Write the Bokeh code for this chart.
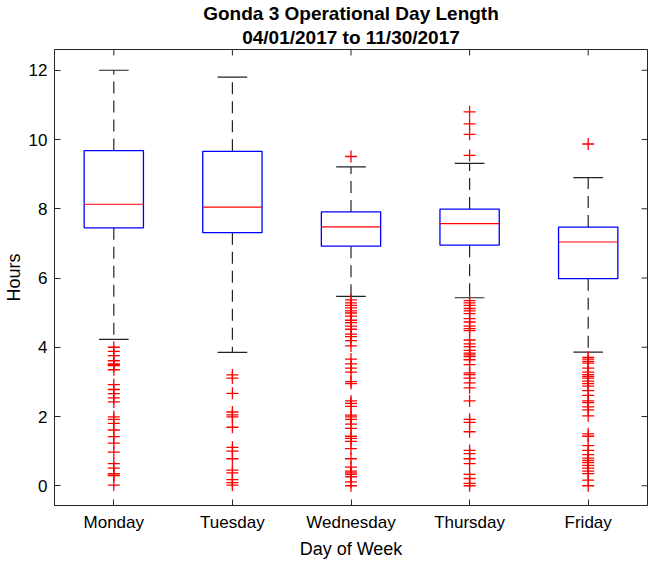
from bokeh.plotting import figure
from bokeh.models import Range1d, FixedTicker, ColumnDataSource, Title
from bokeh.embed import file_html
from bokeh.resources import INLINE

# ---------------- data ----------------
days = ["Monday", "Tuesday", "Wednesday", "Thursday", "Friday"]
positions = [1, 2, 3, 4, 5]
q1 = [7.45, 7.31, 6.92, 6.95, 5.98]
medians = [8.13, 8.05, 7.48, 7.57, 7.04]
q3 = [9.68, 9.66, 7.91, 7.99, 7.47]
lower_whisker = [4.23, 3.85, 5.47, 5.43, 3.86]
upper_whisker = [12.0, 11.8, 9.21, 9.31, 8.90]

monday_outliers = [4.00, 3.88, 3.76, 3.61, 3.52, 3.50, 3.47, 3.35, 2.92, 2.78, 2.66,
                   2.54, 2.42, 1.99, 1.92, 1.80, 1.61, 1.42, 1.23, 0.97, 0.64, 0.51,
                   0.35, 0.31, 0.29, 0.02]
tuesday_outliers = [3.20, 3.11, 2.67, 2.13, 2.05, 1.99, 1.69, 1.11, 1.00, 0.78, 0.45,
                    0.37, 0.18, 0.09, 0.02]
wednesday_outliers = [9.51, 5.37, 5.28, 5.21, 5.14, 5.05, 4.99, 4.90, 4.78, 4.71, 4.61,
                      4.52, 4.38, 4.31, 4.19, 4.04, 3.66, 3.52, 3.40, 3.28, 3.01, 2.95,
                      2.45, 2.38, 2.29, 2.04, 1.99, 1.92, 1.78, 1.66, 1.43, 1.37, 1.28,
                      1.07, 0.78, 0.54, 0.42, 0.37, 0.33, 0.26, 0.11, 0.0]
thursday_outliers = [10.80, 10.45, 10.15, 9.54, 5.35, 5.28, 5.21, 5.12, 5.05, 4.97, 4.83,
                     4.73, 4.61, 4.54, 4.48, 4.21, 4.10, 4.02, 3.91, 3.83, 3.78, 3.73,
                     3.64, 3.50, 3.26, 3.21, 3.11, 2.97, 2.83, 2.45, 1.92, 1.83, 1.56,
                     1.02, 0.93, 0.78, 0.64, 0.33, 0.21, 0.07, 0.0]
friday_outliers = [9.87, 3.71, 3.66, 3.59, 3.54, 3.40, 3.28, 3.21, 3.16, 3.11, 3.02, 2.95,
                   2.88, 2.75, 2.61, 2.45, 2.40, 2.28, 2.19, 2.02, 1.50, 1.43, 1.16,
                   1.02, 0.90, 0.80, 0.73, 0.67, 0.59, 0.51, 0.42, 0.35, 0.16, 0.0]

y_ticks = [0, 2, 4, 6, 8, 10, 12]
title_line1 = "Gonda 3 Operational Day Length"
title_line2 = "04/01/2017 to 11/30/2017"

# ---------------- figure ----------------
FONT = "Liberation Sans"
X0, X1 = 0.5, 5.5
Y0, Y1 = -0.57, 12.6
W, H = 648, 561
p = figure(width=W, height=H, output_backend="svg", toolbar_location=None,
           x_range=Range1d(X0, X1), y_range=Range1d(Y0, Y1),
           min_border_left=0, min_border_right=1, min_border_top=0, min_border_bottom=0)
p.background_fill_color = "white"
p.border_fill_color = "white"
p.outline_line_color = "#262626"
p.outline_line_width = 1
p.xgrid.visible = False
p.ygrid.visible = False

# two-line centred title (second line added first so it sits nearer the plot)
for txt, so in ((title_line2, 3), (title_line1, 0)):
    t = Title(text=txt, align="center", text_font=FONT, text_font_size="19px",
              text_font_style="bold", text_color="black", standoff=so, offset=0)
    p.add_layout(t, "above")

xa = p.xaxis[0]
xa.ticker = FixedTicker(ticks=positions)
xa.major_label_overrides = {pos: d for pos, d in zip(positions, days)}
ya = p.yaxis[0]
ya.ticker = FixedTicker(ticks=y_ticks)

for ax in (xa, ya):
    ax.axis_line_color = "#262626"
    ax.major_tick_line_color = "#262626"
    ax.major_tick_in = 6
    ax.major_tick_out = 0
    ax.minor_tick_line_color = None
    ax.major_label_text_font = FONT
    ax.major_label_text_font_size = "17px"
    ax.major_label_text_color = "black"
    ax.axis_label_text_font = FONT
    ax.axis_label_text_font_size = "18px"
    ax.axis_label_text_font_style = "normal"
    ax.axis_label_text_color = "black"

xa.axis_label = "Day of Week"
xa.major_label_standoff = 7
xa.axis_label_standoff = 4
ya.axis_label = "Hours"
ya.major_label_standoff = 7
ya.axis_label_standoff = 2

# mirrored inward ticks on top and right frame edges
tick_px = 6
frame_w_px = W - 46 - 1
frame_h_px = 458
dy = tick_px * (Y1 - Y0) / frame_h_px
dx = tick_px * (X1 - X0) / frame_w_px
p.segment(x0=positions, y0=[Y1] * len(positions), x1=positions,
          y1=[Y1 - dy] * len(positions), line_color="#262626", line_width=1)
p.segment(x0=[X1] * len(y_ticks), y0=y_ticks, x1=[X1 - dx] * len(y_ticks),
          y1=y_ticks, line_color="#262626", line_width=1)

# ---------------- boxes ----------------
box_half = 0.25
cap_half = 0.125
src = ColumnDataSource(dict(
    x=positions, q1=q1, med=medians, q3=q3, lo=lower_whisker, hi=upper_whisker,
    left=[x - box_half for x in positions], right=[x + box_half for x in positions],
    cl=[x - cap_half for x in positions], cr=[x + cap_half for x in positions],
))

p.segment(x0="x", y0="q3", x1="x", y1="hi", source=src, line_color="#222222",
          line_width=1.2, line_dash="12 7")
p.segment(x0="x", y0="q1", x1="x", y1="lo", source=src, line_color="#222222",
          line_width=1.2, line_dash="12 7")
p.segment(x0="cl", y0="hi", x1="cr", y1="hi", source=src, line_color="#222222", line_width=1.2)
p.segment(x0="cl", y0="lo", x1="cr", y1="lo", source=src, line_color="#222222", line_width=1.2)
p.quad(left="left", right="right", bottom="q1", top="q3", source=src,
       fill_color=None, line_color="#0000ff", line_width=1.3)
p.segment(x0="left", y0="med", x1="right", y1="med", source=src,
          line_color="#ff0000", line_width=1.2)

all_out = [monday_outliers, tuesday_outliers, wednesday_outliers,
           thursday_outliers, friday_outliers]
ox, oy = [], []
for pos, vals in zip(positions, all_out):
    ox.extend([pos] * len(vals))
    oy.extend(vals)
p.scatter(x=ox, y=oy, marker="cross", size=12, line_color="#ff0000",
          line_width=1.3, fill_color=None)

open("out.html", "w").write(file_html(p, INLINE))
